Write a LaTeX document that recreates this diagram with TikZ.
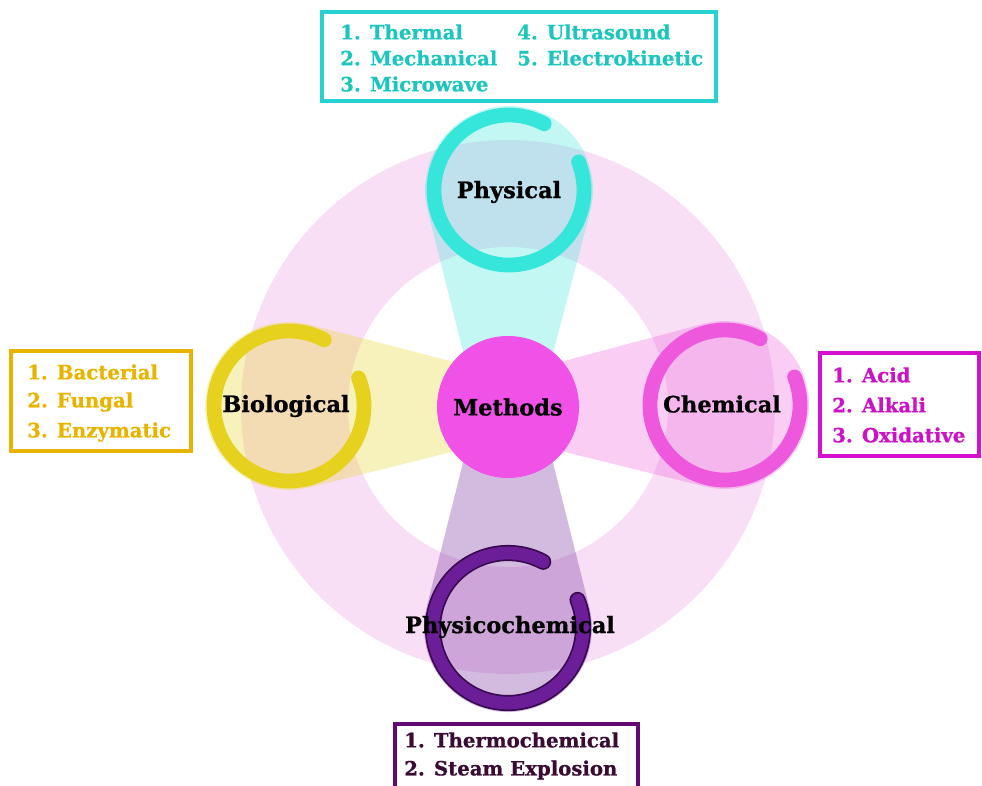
\documentclass[tikz,border=0pt]{standalone}
\usepackage{fontspec}
\setmainfont{DejaVu Serif}[BoldFeatures={FakeBold=0.8}]
\usetikzlibrary{calc}
\newcommand{\pxScale}[0]{0.025}
\definecolor{ringPink}{HTML}{E060D0}
\definecolor{physCol}{HTML}{36E6DA}
\definecolor{physEdge}{HTML}{26D2D0}
\definecolor{physText}{HTML}{1CC6BE}
\definecolor{bioCol}{HTML}{E6D21E}
\definecolor{bioText}{HTML}{E8B400}
\definecolor{chemCol}{HTML}{EE58DC}
\definecolor{chemText}{HTML}{CC12C4}
\definecolor{pcCol}{HTML}{6C1E98}
\definecolor{pcEdge}{HTML}{3A0A50}
\definecolor{pcText}{HTML}{3A0C34}
\definecolor{methCol}{HTML}{F052E8}
% cone from a method circle into the centre
\newcommand{\drawBeam}[4]{%
  \fill[#4, fill opacity=0.3] ($(#1)+(#3+75.5:84)$) -- ($(#2)+(#3+75.5:30)$)
    arc[start angle=#3+75.5, end angle=#3-75.5, radius=30]
    -- ($(#1)+(#3-75.5:84)$)
    arc[start angle=#3-75.5, end angle=#3+75.5-360, radius=84] -- cycle;}

\begin{document}
\begin{tikzpicture}[x=\pxScale cm, y=-\pxScale cm]
  \tikzset{
    lbl/.style={font=\bfseries\fontsize{16}{18}\selectfont, text=black, inner sep=0pt},
    item/.style={font=\bfseries\fontsize{14}{16}\selectfont, anchor=west, inner sep=0pt},
    listbox/.style={line width=2.8pt},
    ringarc/.style={line width=10.5pt, line cap=round},
  }
  \useasboundingbox (0,0) rectangle (982,785);

  \coordinate (M) at (508,407);
  \coordinate (phy) at (509,190);
  \coordinate (bio) at (289,406);
  \coordinate (chem) at (725,405);
  \coordinate (pc) at (508,628);

  \fill[ringPink, fill opacity=0.2, even odd rule]
    (M) circle[radius=267] (M) circle[radius=160];

  \drawBeam{phy}{M}{90}{physCol}
  \drawBeam{bio}{M}{0}{bioCol}
  \drawBeam{chem}{M}{180}{chemCol}
  \drawBeam{pc}{M}{-90}{pcCol}

  \node[circle, fill=methCol, minimum size=3.55cm] (methods) at (M) {};
  \node[lbl] (methodsLbl) at (M) {Methods};

  \draw[ringarc, physCol] ($(phy)+(-22:75)$) arc[start angle=-22, end angle=298, radius=75];
  \draw[ringarc, bioCol] ($(bio)+(-22:75)$) arc[start angle=-22, end angle=298, radius=75];
  \draw[ringarc, chemCol] ($(chem)+(-22:75)$) arc[start angle=-22, end angle=298, radius=75];
  \draw[ringarc, pcEdge, line width=11.5pt] ($(pc)+(-22:75)$) arc[start angle=-22, end angle=298, radius=75];
  \draw[ringarc, pcCol, line width=9pt] ($(pc)+(-22:75)$) arc[start angle=-22, end angle=298, radius=75];

  \node[lbl] (physical) at ($(phy)+(0,2)$) {Physical};
  \node[lbl] (biological) at ($(bio)+(-3,0)$) {Biological};
  \node[lbl] (chemical) at ($(chem)+(-3,-1)$) {Chemical};
  \node[lbl] (physchem) at ($(pc)+(2,-1)$) {Physicochemical};

  % lists
  \draw[listbox, physEdge] (322,12) rectangle (716,101);
  \begin{scope}[every node/.style={item, text=physText}]
    \node (t1) at (340,32) {1. Thermal};
    \node (t2) at (340,58) {2. Mechanical};
    \node (t3) at (340,84) {3. Microwave};
    \node (t4) at (517,32) {4. Ultrasound};
    \node (t5) at (517,58) {5. Electrokinetic};
  \end{scope}

  \draw[listbox, bioText] (11,351) rectangle (191,451);
  \begin{scope}[every node/.style={item, text=bioText}]
    \node (b1) at (27,372) {1. Bacterial};
    \node (b2) at (27,402) {2. Fungal};
    \node (b3) at (27,432) {3. Enzymatic};
  \end{scope}

  \draw[listbox, chemText!80!magenta] (820,353) rectangle (979,456);
  \begin{scope}[every node/.style={item, text=chemText}]
    \node (c1) at (832,375) {1. Acid};
    \node (c2) at (832,405) {2. Alkali};
    \node (c3) at (832,435) {3. Oxidative};
  \end{scope}

  \draw[listbox, pcEdge!80!magenta] (395,724) rectangle (638,790);
  \begin{scope}[every node/.style={item, text=pcText}]
    \node (p1) at (404,740) {1. Thermochemical};
    \node (p2) at (404,770) {2. Steam Explosion};
  \end{scope}
\end{tikzpicture}
\end{document}
